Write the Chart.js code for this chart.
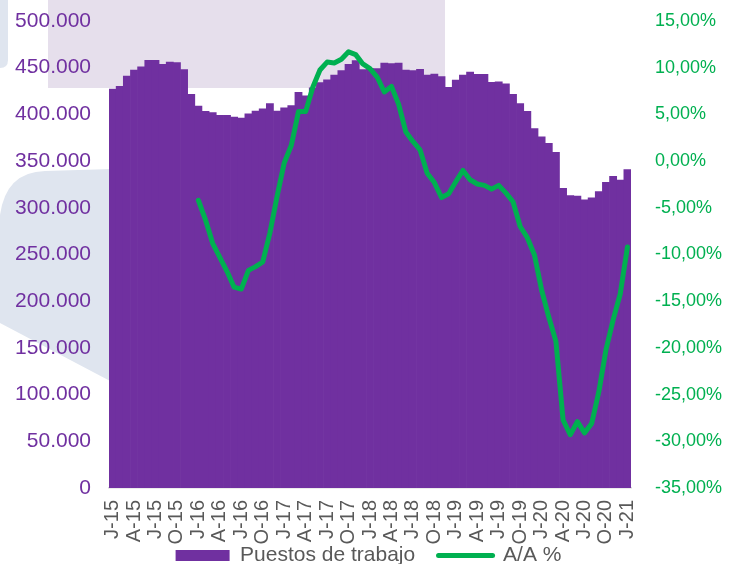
<!DOCTYPE html>
<html>
<head>
<meta charset="utf-8">
<script src="https://cdn.jsdelivr.net/npm/chart.js@4/dist/chart.umd.min.js"></script>
<style>
    html, body { margin: 0; padding: 0; overflow: hidden; background: #fff; }
    #wrap { position: relative; width: 737px; height: 564px; overflow: hidden; }
    #deco { position: absolute; left: 0; top: 0; }
    #box { position: absolute; left: 0; top: 0; width: 737px; height: 576px; }
</style>
</head>
<body>
<div id="wrap">
    <!-- fondo decorativo de la diapositiva -->
    <svg id="deco" width="737" height="564">
        <rect x="48" y="0" width="397" height="88" fill="#E6DFEC"/>
        <path d="M0,0 L8,0 L8,60 Q8,68 0,68 Z" fill="#DFE5EF"/>
        <path d="M0,215 Q6,172 45,171 L112,169 L112,382 L0,323 Z" fill="#DFE5EF"/>
    </svg>
    <div id="box"><canvas id="chart"></canvas></div>
</div>
<script>
'use strict';

// iniciales de mes y años del eje X
const monthInitials = ['J', 'F', 'M', 'A', 'M', 'J', 'J', 'A', 'S', 'O', 'N', 'D'];
const years = ['15', '16', '17', '18', '19', '20', '21'];

// etiquetas visibles (cada trimestre)
const tickLabels = [
    'J-15', 'A-15', 'J-15', 'O-15', 'J-16', 'A-16', 'J-16', 'O-16',
    'J-17', 'A-17', 'J-17', 'O-17', 'J-18', 'A-18', 'J-18', 'O-18',
    'J-19', 'A-19', 'J-19', 'O-19', 'J-20', 'A-20', 'J-20', 'O-20', 'J-21',
];

// puestos de trabajo, enero 2015 - enero 2021
const puestos = [
    427000, 430000, 441000, 447500, 451000, 458000, 458000, 453500, 456000, 455500, 448000, 421500,
    409000, 403300, 402000, 399000, 399000, 397000, 396000, 400500, 403500, 406000, 411500, 403500,
    407000, 409500, 423500, 420000, 428500, 434000, 437000, 442000, 447000, 453500, 457500, 448000,
    449000, 449000, 455000, 454500, 455000, 447500, 447000, 448300, 442000, 443300, 440400, 429000,
    436800, 442000, 445400, 443000, 443000, 434300, 435000, 432600, 421500, 411500, 403300, 384700,
    376100, 369000, 359400, 320900, 313000, 312600, 308400, 310800, 317300, 327300, 333700, 329800,
    340800,
];

// variación interanual (%), empieza en enero 2016
const variacion = [
    null, null, null, null, null, null, null, null, null, null, null, null,
    -4.2, -6.3, -8.8, -10.3, -11.8, -13.5, -13.7, -11.7, -11.3, -10.8, -7.7, -3.8,
    -0.2, 1.7, 5.3, 5.3, 7.9, 9.75, 10.6, 10.5, 10.9, 11.7, 11.4, 10.4,
    9.9, 9.0, 7.4, 8.0, 6.1, 3.15, 2.1, 1.2, -1.3, -2.3, -3.9, -3.5,
    -2.2, -1.0, -2.0, -2.45, -2.6, -3.0, -2.6, -3.4, -4.35, -7.0, -8.2, -10.05,
    -13.8, -16.7, -19.3, -27.7, -29.3, -27.9, -29.1, -28.1, -24.7, -20.2, -17.0, -14.2,
    -9.2,
];

const morado = '#7030A0';
const verde = '#00B050';
const gris = '#595959';
const fuente = '"Liberation Sans", Arial, sans-serif';

// categorías mensuales
let meses = [];
for (let y of years) {
    for (let m of monthInitials) meses.push(m + '-' + y);
}
meses = meses.slice(0, puestos.length);

function miles(v) {
    return String(v).replace(/\B(?=(\d{3})+(?!\d))/g, '.');
}

const ctx = document.getElementById('chart').getContext('2d');
new Chart(ctx, {
    type: 'bar',
    data: {
        labels: meses,
        datasets: [
            {
                type: 'line',
                label: 'A/A %',
                data: variacion,
                yAxisID: 'yPct',
                borderColor: verde,
                borderWidth: 5,
                borderJoinStyle: 'round',
                borderCapStyle: 'round',
                pointRadius: 0,
                tension: 0,
                order: 0,
            },
            {
                label: 'Puestos de trabajo',
                data: puestos,
                yAxisID: 'y',
                backgroundColor: morado,
                borderWidth: 0,
                barPercentage: 1,
                categoryPercentage: 1,
                order: 1,
            },
        ],
    },
    options: {
        responsive: true,
        maintainAspectRatio: false,
        animation: false,
        layout: { padding: { top: 21, left: 0, right: 0, bottom: 0 } },
        plugins: {
            tooltip: { enabled: false },
            legend: {
                position: 'bottom',
                labels: {
                    color: gris,
                    font: { family: fuente, size: 21 },
                    usePointStyle: true,
                    pointStyleWidth: 54,
                    boxHeight: 11,
                    padding: 0,
                    // los espacios finales sólo separan las entradas como en el original
                    generateLabels: () => [
                        { text: 'Puestos de trabajo    ', fillStyle: morado, strokeStyle: morado, lineWidth: 0, pointStyle: 'rect', fontColor: gris },
                        { text: 'A/A %', fillStyle: verde, strokeStyle: verde, lineWidth: 5, lineCap: 'round', pointStyle: 'line', fontColor: gris },
                    ],
                },
            },
        },
        scales: {
            x: {
                grid: { display: false, drawTicks: false },
                border: { display: true, color: '#D9D9D9', width: 1.5 },
                ticks: {
                    autoSkip: false,
                    minRotation: 90,
                    maxRotation: 90,
                    padding: 12,
                    color: gris,
                    font: { family: fuente, size: 20 },
                    callback: (v, i) => (i % 3 === 0 ? tickLabels[i / 3] : ''),
                },
                afterFit: (s) => { s.height = 57; },
            },
            y: {
                position: 'left',
                min: 0,
                max: 500000,
                // marcas invisibles: sólo separan las etiquetas del eje
                grid: { display: false, drawTicks: true, tickLength: 18 },
                border: { display: false },
                ticks: {
                    stepSize: 50000,
                    padding: 0,
                    color: morado,
                    font: { family: fuente, size: 21 },
                    callback: (v) => miles(v),
                },
                afterFit: (s) => { s.width = 109; },
            },
            yPct: {
                position: 'right',
                min: -35,
                max: 15,
                grid: { display: false, drawTicks: true, tickLength: 24 },
                border: { display: false },
                ticks: {
                    stepSize: 5,
                    padding: 0,
                    color: verde,
                    font: { family: fuente, size: 18 },
                    callback: (v) => v.toFixed(2).replace('.', ',') + '%',
                },
                afterFit: (s) => { s.width = 106; },
            },
        },
    },
});
</script>
</body>
</html>
